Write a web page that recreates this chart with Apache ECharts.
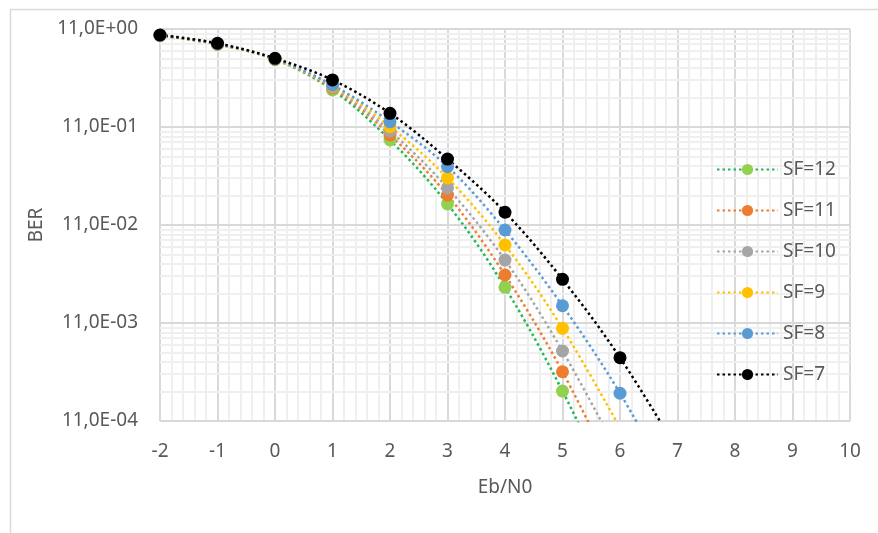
<!DOCTYPE html>
<html>
<head>
<meta charset="utf-8">
<script src="https://cdn.jsdelivr.net/npm/echarts@6/dist/echarts.min.js"></script>
<style>
html,body{margin:0;padding:0;background:#fff;}
#c{width:878px;height:533px;}
</style>
</head>
<body>
<div id="c"></div>
<script>
// ---- data ----
var ebN0 = [-2, -1, 0, 1, 2, 3, 4, 5, 6, 7];
var seriesNames = ['SF=12', 'SF=11', 'SF=10', 'SF=9', 'SF=8', 'SF=7'];
var sf12 = [0.86, 0.70, 0.49, 0.239, 0.0737, 0.0164, 0.00231, 0.000202, 0.000012];
var sf11 = [0.86, 0.70, 0.49, 0.250, 0.0828, 0.0202, 0.00309, 0.000318, 0.000021];
var sf10 = [0.86, 0.70, 0.49, 0.256, 0.0910, 0.0239, 0.00439, 0.000518, 0.000043];
var sf9  = [0.86, 0.70, 0.49, 0.262, 0.1007, 0.0302, 0.00625, 0.000883, 0.000085];
var sf8  = [0.862, 0.705, 0.495, 0.268, 0.113, 0.0394, 0.00889, 0.00150, 0.000192, 0.000017];
var sf7  = [0.869, 0.715, 0.502, 0.302, 0.138, 0.0471, 0.0135, 0.00279, 0.000443, 0.0000501];
var yTickLabels = {'-4': '11,0E-04', '-3': '11,0E-03', '-2': '11,0E-02', '-1': '11,0E-01', '0': '11,0E+00'};
var minorYValues = [];
[-4, -3, -2, -1].forEach(function (e) {
  for (var k = 2; k <= 9; k++) minorYValues.push(k * Math.pow(10, e));
});

var allData = [sf12, sf11, sf10, sf9, sf8, sf7];
var lineColors = ['#1DB954', '#ED7D31', '#A5A5A5', '#FFC000', '#5B9BD5', '#000000'];
var markerColors = ['#92D050', '#ED7D31', '#A5A5A5', '#FFC000', '#5B9BD5', '#000000'];

var FONT = 'Noto Sans';
var TXT = '#595959';
var FS = 19;

var series = allData.map(function (arr, i) {
  return {
    name: seriesNames[i],
    type: 'line',
    yAxisIndex: 0,
    smooth: 0.35,
    clip: true,
    symbol: 'circle',
    symbolSize: 13,
    data: arr.map(function (v, j) { return [ebN0[j], v]; }),
    lineStyle: { color: lineColors[i], width: 2.5, type: [2.5, 3] },
    itemStyle: { color: markerColors[i], borderWidth: 0 },
    emphasis: { disabled: true }
  };
});

var chart = echarts.init(document.getElementById('c'), null, { renderer: 'canvas' });
chart.setOption({
  animation: false,
  backgroundColor: '#fff',
  graphic: [{
    type: 'rect', left: 8, top: 7,
    shape: { width: 900, height: 560 },
    style: { fill: 'none', stroke: '#d9d9d9', lineWidth: 1.5 },
    silent: true
  }],
  grid: { left: 160, right: 28, top: 29, bottom: 112 },
  legend: {
    orient: 'vertical',
    left: 711, top: 155,
    itemWidth: 61, itemHeight: 14, itemGap: 22,
    textStyle: { fontFamily: FONT, fontSize: FS, color: TXT },
    data: seriesNames
  },
  xAxis: {
    type: 'value', min: -2, max: 10, interval: 1,
    name: 'Eb/N0', nameLocation: 'middle', nameGap: 57,
    nameTextStyle: { fontFamily: FONT, fontSize: FS, color: TXT },
    axisLine: { show: false },
    axisTick: { show: false },
    axisLabel: { fontFamily: FONT, fontSize: FS, color: TXT, margin: 21 },
    splitLine: { show: true, lineStyle: { color: '#d9d9d9', width: 2 } },
    minorTick: { show: false, splitNumber: 5 },
    minorSplitLine: { show: true, lineStyle: { color: '#efefef', width: 2 } }
  },
  yAxis: [{
    type: 'log', logBase: 10, min: 0.0001, max: 1,
    name: 'BER', nameLocation: 'middle', nameGap: 114, nameRotate: 90,
    nameTextStyle: { fontFamily: FONT, fontSize: FS, color: TXT },
    axisLine: { show: false },
    axisTick: { show: false },
    axisLabel: {
      fontFamily: FONT, fontSize: FS, color: TXT, margin: 22,
      formatter: function (v) { return yTickLabels[String(Math.round(Math.log10(v)))] || ''; }
    },
    splitLine: { show: true, lineStyle: { color: '#d9d9d9', width: 2 } },
    z: 2
  }, {
    type: 'log', logBase: 10, min: 0.0001, max: 1,
    position: 'left',
    axisLine: { show: false },
    axisTick: { show: false, customValues: minorYValues },
    axisLabel: { show: false, customValues: minorYValues },
    splitLine: { show: true, lineStyle: { color: '#efefef', width: 2 } },
    z: 1
  }],
  series: series
});
</script>
</body>
</html>
